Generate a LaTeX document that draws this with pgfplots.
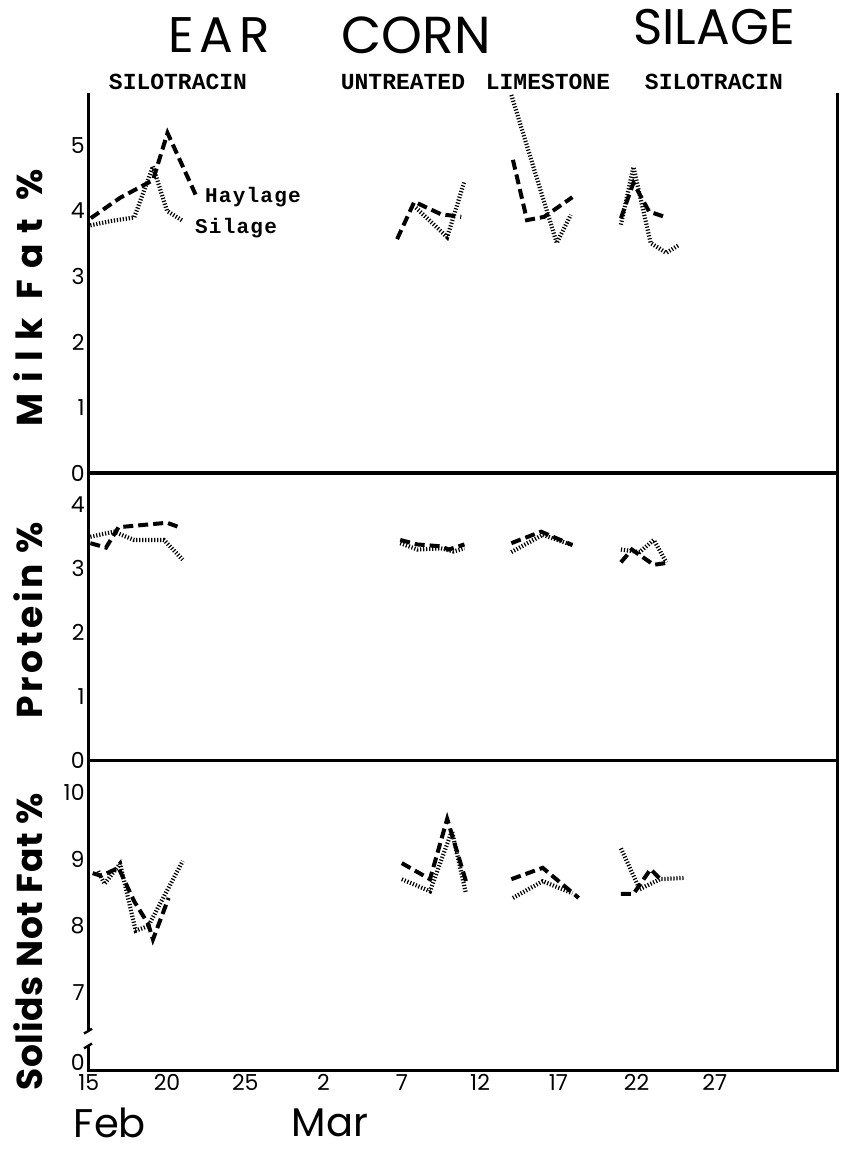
\documentclass[border=0pt]{standalone}
\usepackage{fontspec}
\usepackage{pgfplots}
\pgfplotsset{compat=1.18}
\newfontfamily\pop{Poppins}
\newfontfamily\slab{Liberation Mono}
\pgfplotsset{
  panel/.style={scale only axis, width=375pt, xmin=-0.05, xmax=47.87,
    axis line style={draw=none}, major tick length=0pt, xtick=\empty,
    /pgf/number format/assume math mode=true,
    ticklabel style={font=\pop\fontsize{11}{11}\selectfont},
    yticklabel style={inner sep=1.5pt},
    clip=false},
  hay/.style={black, line width=2pt, dash pattern=on 5pt off 2.5pt},
  sil/.style={black, line width=2.1pt, dash pattern=on 0.6pt off 0.9pt},
}
\begin{document}
\begin{tikzpicture}
\begin{scope}[x=0.5pt,y=-0.5pt]
\useasboundingbox (0,0) rectangle (844,1153);
\node[font=\pop\fontsize{25}{25}\selectfont\addfontfeature{LetterSpace=12}] at (219,35) {EAR};
\node[font=\pop\fontsize{26}{26}\selectfont] at (416,35) {CORN};
\node[font=\pop\fontsize{25}{25}\selectfont] at (714,27) {SILAGE};
\node[font=\slab\bfseries\fontsize{11.5}{11.5}\selectfont] at (178,82) {SILOTRACIN};
\node[font=\slab\bfseries\fontsize{11.5}{11.5}\selectfont] at (403,82) {UNTREATED};
\node[font=\slab\bfseries\fontsize{11.5}{11.5}\selectfont] at (548,82) {LIMESTONE};
\node[font=\slab\bfseries\fontsize{11.5}{11.5}\selectfont] at (714,82) {SILOTRACIN};
\node[font=\slab\bfseries\fontsize{10.5}{10.5}\selectfont\addfontfeature{LetterSpace=6}, anchor=west] at (198,197) {Haylage};
\node[font=\slab\bfseries\fontsize{10.5}{10.5}\selectfont\addfontfeature{LetterSpace=6}, anchor=west] at (188,228) {Silage};
\node[rotate=90, font=\pop\bfseries\fontsize{18}{18}\selectfont\addfontfeature{LetterSpace=30}] at (28,298) {Milk Fat \%};
\node[rotate=90, font=\pop\bfseries\fontsize{18}{18}\selectfont\addfontfeature{LetterSpace=10}] at (28,620) {Protein \%};
\node[rotate=90, font=\pop\bfseries\fontsize{18}{18}\selectfont\addfontfeature{LetterSpace=2}] at (28,942) {Solids Not Fat \%};
\node[font=\pop\fontsize{20}{20}\selectfont] at (110,1123) {Feb};
\node[font=\pop\fontsize{20}{20}\selectfont] at (330,1123) {Mar};
\end{scope}

% Milk fat
\begin{axis}[panel, at={(44pt,-46.5pt)}, anchor=north west, height=190pt,
  ymin=0, ymax=5.8, ytick={0,1,2,3,4,5}]
\addplot[hay] coordinates {(0.13,3.89) (2,4.2) (4.1,4.47) (5.03,5.19) (6.9,4.21)};
\addplot[sil] coordinates {(0.1,3.78) (1.5,3.85) (2.9,3.9) (4.1,4.68) (5.0,4.0) (6.0,3.85)};
\addplot[hay] coordinates {(19.7,3.57) (20.8,4.14) (22.5,3.95) (23.8,3.91)};
\addplot[sil] coordinates {(20.9,4.05) (22.9,3.6) (24.0,4.45)};
\addplot[hay] coordinates {(27.1,4.78) (28.0,3.86) (29.1,3.91) (30.9,4.21)};
\addplot[sil] coordinates {(27.0,5.77) (29.9,3.51) (30.8,3.94)};
\addplot[hay] coordinates {(34,3.89) (34.8,4.43) (35.8,3.99) (36.8,3.91)};
\addplot[sil] coordinates {(34,3.79) (34.8,4.67) (35.9,3.51) (36.9,3.36) (37.7,3.48)};
\draw[line width=1.5pt] (rel axis cs:0,1) -- (rel axis cs:0,0) -- (rel axis cs:1,0) -- (rel axis cs:1,1);
\end{axis}

% Protein
\begin{axis}[panel, at={(44pt,-236.5pt)}, anchor=north west, height=143.5pt,
  ymin=0, ymax=4.5, ytick={0,1,2,3,4}]
\addplot[hay] coordinates {(0.1,3.4) (1.1,3.33) (1.9,3.65) (5.0,3.72) (5.9,3.64)};
\addplot[sil] coordinates {(0.1,3.5) (1.6,3.58) (2.9,3.45) (4.8,3.45) (6.0,3.14)};
\addplot[hay] coordinates {(19.9,3.45) (21,3.38) (22.5,3.35) (23,3.3) (24,3.38)};
\addplot[sil] coordinates {(19.9,3.4) (21,3.3) (22.5,3.32) (23.3,3.27) (24,3.32)};
\addplot[hay] coordinates {(27,3.4) (28.9,3.58) (30.9,3.37)};
\addplot[sil] coordinates {(27,3.26) (29,3.53) (30.9,3.37)};
\addplot[hay] coordinates {(34,3.1) (34.7,3.3) (36.1,3.06) (36.9,3.09)};
\addplot[sil] coordinates {(34,3.3) (35.2,3.26) (36.1,3.45) (36.9,3.1)};
\draw[line width=1.5pt] (rel axis cs:0,1) -- (rel axis cs:0,0) -- (rel axis cs:1,0) -- (rel axis cs:1,1);
\end{axis}

% Solids not fat
\begin{axis}[panel, at={(44pt,-380pt)}, anchor=north west, height=155pt,
  ymin=5.85, ymax=10.48, ytick={5.97,7,8,9,10}, yticklabels={0,7,8,9,10},
  xtick={0,5,...,40}, xticklabels={15,20,25,2,7,12,17,22,27},
  xticklabel style={inner sep=2pt}]
\addplot[hay] coordinates {(0.25,8.79) (0.8,8.75) (1.9,8.87) (2.9,8.37) (3.8,8.03) (4.1,7.8) (5.1,8.42)};
\addplot[sil] coordinates {(0.6,8.82) (1.0,8.63) (2.0,8.93) (3.0,7.93) (3.8,8.0) (6.0,8.97)};
\addplot[hay] coordinates {(20,8.94) (21.8,8.7) (22.9,9.6) (24.1,8.67)};
\addplot[sil] coordinates {(20,8.7) (21.8,8.52) (23.2,9.42) (24.1,8.49)};
\addplot[hay] coordinates {(27,8.7) (29,8.87) (31.3,8.42)};
\addplot[sil] coordinates {(27.1,8.42) (29,8.67) (30.9,8.49)};
\addplot[hay] coordinates {(34,8.48) (34.8,8.48) (35.9,8.85) (36.6,8.68)};
\addplot[sil] coordinates {(34,9.16) (35.2,8.55) (35.8,8.62) (36.5,8.7) (38,8.72)};
\draw[line width=1.5pt] (rel axis cs:0,1) -- (axis cs:-0.05,6.43);
\draw[line width=1.5pt] (axis cs:-0.05,6.21) -- (rel axis cs:0,0) -- (rel axis cs:1,0) -- (rel axis cs:1,1);
\draw[line width=1.2pt] (axis cs:-0.05,6.43) ++(-2pt,-1.2pt) -- ++(4pt,2.4pt);
\draw[line width=1.2pt] (axis cs:-0.05,6.21) ++(-2pt,-1.2pt) -- ++(4pt,2.4pt);
\end{axis}
\end{tikzpicture}
\end{document}
